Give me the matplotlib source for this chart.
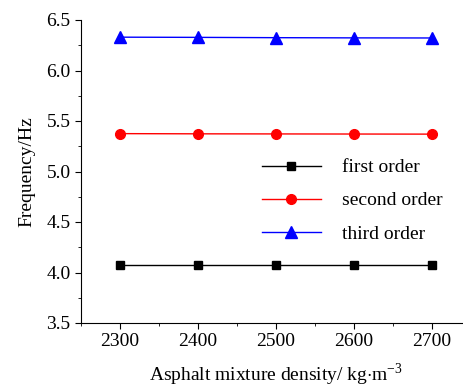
import matplotlib.pyplot as plt
import numpy as np
from matplotlib.ticker import MultipleLocator

plt.rcParams['font.family'] = ['Liberation Serif', 'DejaVu Serif']
plt.rcParams['mathtext.fontset'] = 'custom'
plt.rcParams['mathtext.rm'] = 'Liberation Serif'

density = [2300, 2400, 2500, 2600, 2700]
first_order = [4.07, 4.07, 4.07, 4.07, 4.07]
second_order = [5.375, 5.373, 5.372, 5.371, 5.370]
third_order = [6.33, 6.328, 6.325, 6.323, 6.322]

fig = plt.figure(figsize=(4.64, 3.88), dpi=100)
ax = fig.add_axes([81 / 464, 65 / 388, 390 / 464, 303 / 388])

ax.plot(density, first_order, color='black', marker='s', markersize=6, lw=1, label='first order')
ax.plot(density, second_order, color='red', marker='o', markersize=7, lw=1, label='second order')
ax.plot(density, third_order, color='blue', marker='^', markersize=9, lw=1, label='third order')

ax.set_xlim(2250, 2750)
ax.set_ylim(3.5, 6.5)
ax.set_xticks([2300, 2400, 2500, 2600, 2700])
ax.xaxis.set_minor_locator(MultipleLocator(50))
ax.yaxis.set_major_locator(MultipleLocator(0.5))
ax.yaxis.set_minor_locator(MultipleLocator(0.25))
ax.spines['top'].set_visible(False)
ax.spines['right'].set_visible(False)
ax.tick_params(which='major', direction='out', length=4, labelsize=14)
ax.tick_params(which='minor', direction='out', length=2.5)

ax.set_xlabel('Asphalt mixture density/ kg$\\cdot$m$^{\\mathrm{-3}}$', fontsize=14, labelpad=8)
ax.set_ylabel('Frequency/Hz', fontsize=14, labelpad=8)

ax.legend(loc='upper left', bbox_to_anchor=(0.42, 0.60), frameon=False, fontsize=14,
          handlelength=3, labelspacing=0.8, handletextpad=1.1)

fig.savefig('out.png', dpi=100)
